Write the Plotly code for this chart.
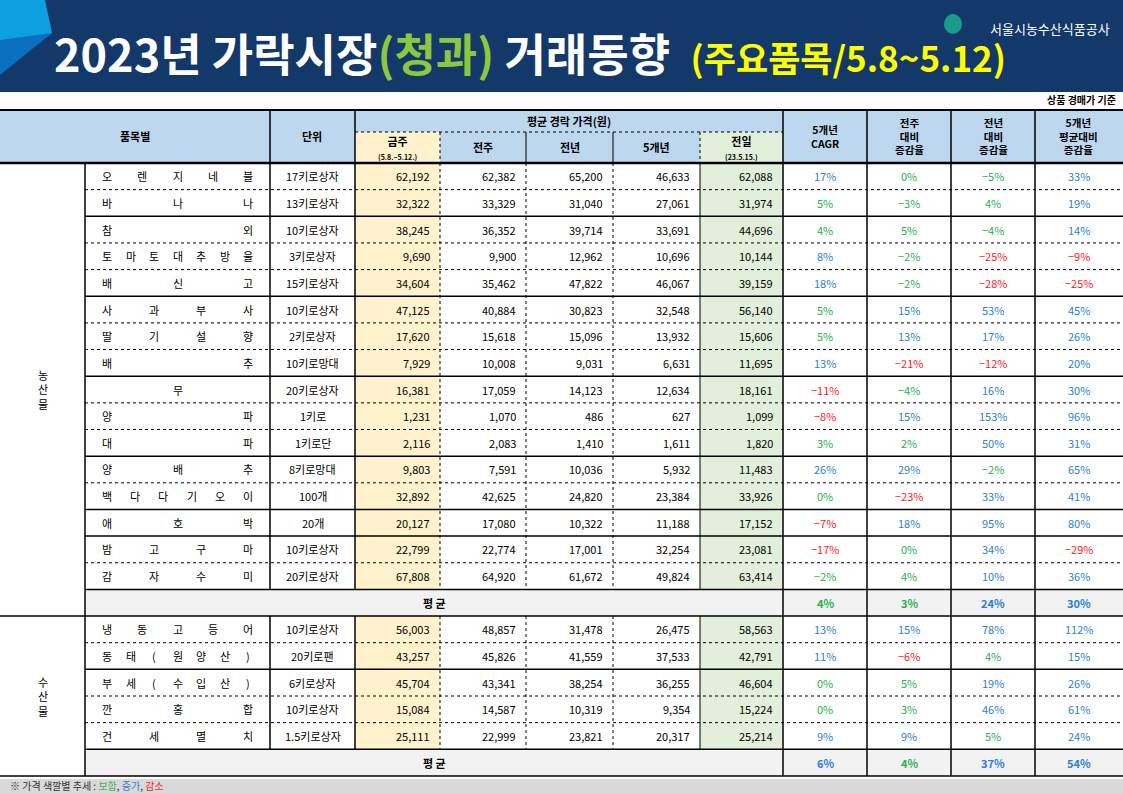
import plotly.graph_objects as go

# ---------------- data ----------------
agri_items = ["오렌지네블", "바나나", "참외", "토마토대추방울", "배신고", "사과부사", "딸기설향", "배추", "무",
              "양파", "대파", "양배추", "백다다기오이", "애호박", "밤고구마", "감자수미"]
agri_units = ["17키로상자", "13키로상자", "10키로상자", "3키로상자", "15키로상자", "10키로상자", "2키로상자", "10키로망대",
              "20키로상자", "1키로", "1키로단", "8키로망대", "100개", "20개", "10키로상자", "20키로상자"]
agri_this = [62192, 32322, 38245, 9690, 34604, 47125, 17620, 7929, 16381, 1231, 2116, 9803, 32892, 20127, 22799, 67808]
agri_prevwk = [62382, 33329, 36352, 9900, 35462, 40884, 15618, 10008, 17059, 1070, 2083, 7591, 42625, 17080, 22774, 64920]
agri_lastyr = [65200, 31040, 39714, 12962, 47822, 30823, 15096, 9031, 14123, 486, 1410, 10036, 24820, 10322, 17001, 61672]
agri_5yr = [46633, 27061, 33691, 10696, 46067, 32548, 13932, 6631, 12634, 627, 1611, 5932, 23384, 11188, 32254, 49824]
agri_prevday = [62088, 31974, 44696, 10144, 39159, 56140, 15606, 11695, 18161, 1099, 1820, 11483, 33926, 17152, 23081, 63414]
agri_cagr = [17, 5, 4, 8, 18, 5, 5, 13, -11, -8, 3, 26, 0, -7, -17, -2]
agri_wow = [0, -3, 5, -2, -2, 15, 13, -21, -4, 15, 2, 29, -23, 18, 0, 4]
agri_yoy = [-5, 4, -4, -25, -28, 53, 17, -12, 16, 153, 50, -2, 33, 95, 34, 10]
agri_vs5 = [33, 19, 14, -9, -25, 45, 26, 20, 30, 96, 31, 65, 41, 80, -29, 36]
agri_avg = [4, 3, 24, 30]

sea_items = ["냉동고등어", "동태(원양산)", "부세(수입산)", "깐홍합", "건세멸치"]
sea_units = ["10키로상자", "20키로팬", "6키로상자", "10키로상자", "1.5키로상자"]
sea_this = [56003, 43257, 45704, 15084, 25111]
sea_prevwk = [48857, 45826, 43341, 14587, 22999]
sea_lastyr = [31478, 41559, 38254, 10319, 23821]
sea_5yr = [26475, 37533, 36255, 9354, 20317]
sea_prevday = [58563, 42791, 46604, 15224, 25214]
sea_cagr = [13, 11, 0, 0, 9]
sea_wow = [15, -6, 5, 3, 9]
sea_yoy = [78, 4, 19, 46, 5]
sea_vs5 = [112, 15, 26, 61, 24]
sea_avg = [6, 4, 37, 54]

# ---------------- layout geometry ----------------
W, H = 1123, 794
FONT = "Noto Sans CJK KR"
cols = [0, 85, 270, 355, 440, 526, 613, 700, 783, 867, 951, 1035, 1122]
HDR_TOP, HDR_MID, HDR_BOT = 110, 132, 163
RH = 26.65
agri_solid_after = {1, 4, 7, 10, 12, 13}
sea_solid_after = {1}

shapes, ann = [], []

def rect(x0, y0, x1, y1, fill, lw=0, lc="black"):
    shapes.append(dict(type="rect", x0=x0, y0=y0, x1=x1, y1=y1, fillcolor=fill,
                       line=dict(width=lw, color=lc), layer="below"))

def line(x0, y0, x1, y1, w=1, dash="solid", c="black"):
    shapes.append(dict(type="line", x0=x0, y0=y0, x1=x1, y1=y1, line=dict(width=w, color=c, dash=dash)))

def text(x, y, s, size=11, color="black", xa="center", bold=False, fam=FONT):
    if bold:
        s = "<b>" + s + "</b>"
    ann.append(dict(x=x, y=y, text=s, showarrow=False, xanchor=xa, yanchor="middle",
                    font=dict(size=size, color=color, family=fam)))

def pct_color(v):
    if -5 <= v <= 5:
        return "#1db34a"
    return "#2a7fd4" if v > 5 else "#ff1a1a"

# ---------------- title banner ----------------
rect(0, 0, W, 92, "#13386a")
shapes.append(dict(type="path", path="M 0 0 L 45 0 L 52 33 L 0 70 Z", fillcolor="#0e9fe0", line=dict(width=0)))
shapes.append(dict(type="path", path="M 0 40 L 52 33 L 0 75 Z", fillcolor="#0a6fc0", line=dict(width=0)))
ann.append(dict(x=52, y=52, xanchor="left", yanchor="middle", showarrow=False,
                text="<b>2023년 가락시장<span style='color:#8dc63f'>(청과)</span> 거래동향  "
                     "<span style='color:#ffff00;font-size:35px'>(주요품목/5.8~5.12)</span></b>",
                font=dict(size=45, color="white", family=FONT)))
text(1112, 28, "서울시농수산식품공사", size=13, color="white", xa="right")
shapes.append(dict(type="circle", x0=944, y0=14, x1=962, y1=34, fillcolor="#1a9a8a", line=dict(width=0)))
text(1118, 99, "상품 경매가 기준", size=10, xa="right", bold=True)

# ---------------- header ----------------
rect(0, HDR_TOP, W, HDR_BOT, "#bdd7ee")
rect(cols[3], HDR_MID, cols[4], HDR_BOT, "#fff2cc")
rect(cols[7], HDR_MID, cols[8], HDR_BOT, "#e2efda")
text(135, 136, "품목별", bold=True)
text(312, 136, "단위", bold=True)
text((cols[3] + cols[8]) / 2, 121, "평균 경락 가격(원)", bold=True)
text((cols[3] + cols[4]) / 2, 147, "금주<br><span style='font-size:7px'>(5.8.~5.12.)</span>", bold=True)
text((cols[4] + cols[5]) / 2, 147, "전주", bold=True)
text((cols[5] + cols[6]) / 2, 147, "전년", bold=True)
text((cols[6] + cols[7]) / 2, 147, "5개년", bold=True)
text((cols[7] + cols[8]) / 2, 147, "전일<br><span style='font-size:7px'>(23.5.15.)</span>", bold=True)
rhdr = ["5개년<br>CAGR", "전주<br>대비<br>증감율", "전년<br>대비<br>증감율", "5개년<br>평균대비<br>증감율"]
for i, s in enumerate(rhdr):
    text((cols[8 + i] + cols[9 + i]) / 2, 136, s, size=10.5, bold=True)

# ---------------- body ----------------
def block(y0, items, units, vals, pcts, avg, solid_after, label):
    n = len(items)
    rect(cols[3], y0, cols[4], y0 + n * RH, "#fff2cc")
    rect(cols[7], y0, cols[8], y0 + n * RH, "#e2efda")
    for r in range(n):
        yc = y0 + (r + 0.5) * RH
        name = items[r]
        if len(name) == 1:
            text((cols[1] + cols[2]) / 2, yc, name)
        else:
            x0, x1 = cols[1] + 22, cols[2] - 22
            for k, ch in enumerate(name):
                text(x0 + (x1 - x0) * k / (len(name) - 1), yc, ch)
        text((cols[2] + cols[3]) / 2, yc, units[r])
        for j, arr in enumerate(vals):
            text(cols[3 + j + 1] - 8, yc, f"{arr[r]:,}", xa="right")
        for j, arr in enumerate(pcts):
            v = arr[r]
            text((cols[8 + j] + cols[9 + j]) / 2, yc, f"{v}%".replace("-", "−"), color=pct_color(v))
        yb = y0 + (r + 1) * RH
        if r < n - 1:
            if r in solid_after:
                line(cols[1], yb, W, yb, 1.5)
            else:
                line(cols[1], yb, W, yb, 1, "dot")
    ya = y0 + n * RH
    rect(cols[1], ya, W, ya + RH, "#f2f2f2")
    line(cols[1], ya, W, ya, 1.5)
    text((cols[1] + cols[8]) / 2, ya + RH / 2, "평 균", bold=True)
    for j, v in enumerate(avg):
        text((cols[8 + j] + cols[9 + j]) / 2, ya + RH / 2, f"{v}%", color=pct_color(v), bold=True)
    text(cols[1] / 2, (y0 + ya + RH) / 2, "<br>".join(label))
    for c in [cols[1], cols[2], cols[3], cols[8], cols[9], cols[10], cols[11]]:
        line(c, y0, c, ya + (RH if c in (cols[1], cols[8], cols[9], cols[10], cols[11]) else 0), 1.5)
    for c in [cols[4], cols[5], cols[6]]:
        line(c, y0, c, ya, 1, "dot")
    line(cols[7], y0, cols[7], ya, 1)
    return ya + RH

y_end1 = block(HDR_BOT, agri_items, agri_units,
               [agri_this, agri_prevwk, agri_lastyr, agri_5yr, agri_prevday],
               [agri_cagr, agri_wow, agri_yoy, agri_vs5], agri_avg, agri_solid_after, "농산물")
line(0, y_end1, W, y_end1, 1.5)
y_end2 = block(y_end1, sea_items, sea_units,
               [sea_this, sea_prevwk, sea_lastyr, sea_5yr, sea_prevday],
               [sea_cagr, sea_wow, sea_yoy, sea_vs5], sea_avg, sea_solid_after, "수산물")
line(0, y_end2, W, y_end2, 1.5)

line(0, HDR_TOP, W, HDR_TOP, 2)
line(0, HDR_BOT, W, HDR_BOT, 2.5)
line(cols[3], HDR_MID, cols[8], HDR_MID, 1, "dot")
for c in [cols[2], cols[3], cols[8], cols[9], cols[10], cols[11]]:
    line(c, HDR_TOP, c, HDR_BOT, 1.5)
line(cols[4], HDR_MID, cols[4], HDR_BOT, 1, "dot")
line(cols[5], HDR_MID, cols[5], HDR_BOT, 1)
line(cols[6], HDR_MID, cols[6], HDR_BOT, 1)
line(cols[7], HDR_MID, cols[7], HDR_BOT, 1, "dot")

# footer
rect(0, 779, W, H, "#d9d9d9")
ann.append(dict(x=8, y=785, xanchor="left", yanchor="middle", showarrow=False,
                text="※ 가격 색깔별 추세 : <span style='color:#4caf50'>보합</span>, "
                     "<span style='color:#2a7fd4'>증가</span>, <span style='color:#ff1a1a'>감소</span>",
                font=dict(size=10, color="#333", family=FONT)))

fig = go.Figure()
fig.update_layout(width=W, height=H, margin=dict(l=0, r=0, t=0, b=0),
                  paper_bgcolor="white", plot_bgcolor="white",
                  xaxis=dict(range=[0, W], visible=False, fixedrange=True),
                  yaxis=dict(range=[H, 0], visible=False, fixedrange=True),
                  shapes=shapes, annotations=ann, showlegend=False)
fig.write_html("out.html", config={"displayModeBar": False},
               post_script="document.body.style.margin='0';document.body.style.overflow='hidden';")
